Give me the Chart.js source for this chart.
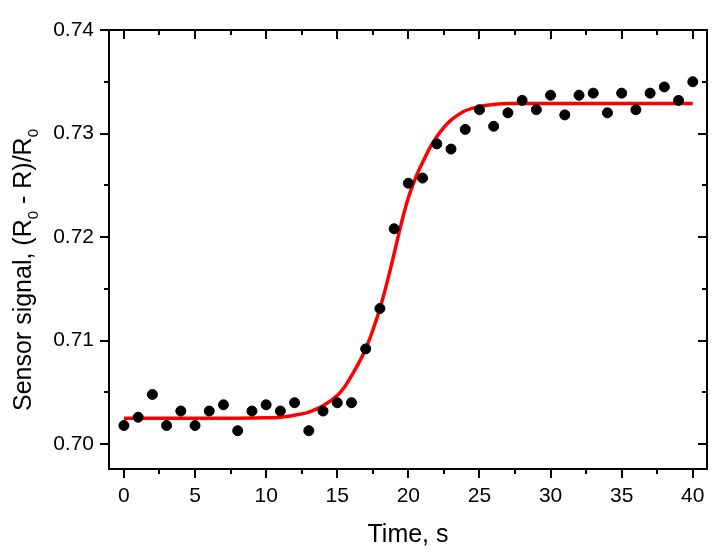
<!DOCTYPE html>
<html>
<head>
<meta charset="utf-8">
<script src="https://cdn.jsdelivr.net/npm/chart.js@4/dist/chart.umd.min.js"></script>
<style>
html, body { margin: 0; padding: 0; background: #fff; }
#wrap { width: 717px; height: 556px; }
</style>
</head>
<body>
<div id="wrap"><canvas id="sensorChart" width="717" height="556"></canvas></div>
<script>
// measured points
const timeValues = [0,1,2,3,4,5,6,7,8,9,10,11,12,13,14,15,16,17,18,19,20,
  21,22,23,24,25,26,27,28,29,30,31,32,33,34,35,36,37,38,39,40];
const signalValues = [0.7018,0.7026,0.7048,0.7018,0.7032,0.7018,0.7032,0.7038,0.7013,0.7032,0.7038,
  0.7032,0.7040,0.7013,0.7032,0.7040,0.7040,0.7092,0.7131,0.7208,0.7252,
  0.7257,0.7290,0.7285,0.7304,0.7323,0.7307,0.7320,0.7332,0.7323,0.7337,
  0.7318,0.7337,0.7339,0.7320,0.7339,0.7323,0.7339,0.7345,0.7332,0.7350];

// fitted curve
const fitTime = [0,5,10,11,12,13,14,15,15.5,16,16.5,17,17.5,18,18.5,19,19.5,20,20.5,21,21.5,22,22.5,23,23.5,24,25,26,27,30,35,40];
const fitSignal = [0.7025,0.7025,0.70255,0.7026,0.7028,0.7031,0.7037,0.7047,0.7055,0.7066,0.7078,0.7092,0.7110,0.7131,0.7156,0.7184,0.7213,0.7238,0.7257,0.7272,0.7286,0.7297,0.7306,0.7313,0.7318,0.7322,0.7326,0.7328,0.7329,0.7329,0.7329,0.7329];

const xTicks = [0,5,10,15,20,25,30,35,40];
const xMinorTicks = [2.5,7.5,12.5,17.5,22.5,27.5,32.5,37.5];
const yTicks = [0.70,0.71,0.72,0.73,0.74];
const yMinorTicks = [0.705,0.715,0.725,0.735];

const FONT = "'Liberation Sans', Arial, sans-serif";

// 畫外框與刻度（含次刻度、上/右內向刻度）
const frameTicks = {
  id: 'frameTicks',
  afterDraw(chart) {
    const ctx = chart.ctx;
    const a = chart.chartArea;
    const xs = chart.scales.x, ys = chart.scales.y;
    ctx.save();
    ctx.strokeStyle = '#000';
    ctx.lineWidth = 2;
    ctx.strokeRect(a.left, a.top, a.right - a.left, a.bottom - a.top);
    const tick = (x1, y1, x2, y2) => { ctx.beginPath(); ctx.moveTo(x1, y1); ctx.lineTo(x2, y2); ctx.stroke(); };
    xTicks.forEach(v => {
      const px = Math.round(xs.getPixelForValue(v));
      tick(px, a.bottom, px, a.bottom + 9);
      tick(px, a.top, px, a.top + 9);
    });
    xMinorTicks.forEach(v => {
      const px = Math.round(xs.getPixelForValue(v));
      tick(px, a.bottom, px, a.bottom + 5);
      tick(px, a.top, px, a.top + 5);
    });
    yTicks.forEach(v => {
      const py = Math.round(ys.getPixelForValue(v));
      tick(a.left, py, a.left - 9, py);
      tick(a.right, py, a.right - 9, py);
    });
    yMinorTicks.forEach(v => {
      const py = Math.round(ys.getPixelForValue(v));
      tick(a.left, py, a.left - 5, py);
      tick(a.right, py, a.right - 5, py);
    });

    // y軸標題（含下標）
    const parts = [
      ['Sensor signal, (R', false], ['0', true], [' - R)/R', false], ['0', true]
    ];
    const big = `25px ${FONT}`, small = `15px ${FONT}`;
    let total = 0;
    parts.forEach(p => { ctx.font = p[1] ? small : big; total += ctx.measureText(p[0]).width; });
    ctx.translate(31, 270);
    ctx.rotate(-Math.PI / 2);
    ctx.fillStyle = '#000';
    ctx.textBaseline = 'alphabetic';
    let x = -total / 2;
    parts.forEach(p => {
      ctx.font = p[1] ? small : big;
      ctx.fillText(p[0], x, p[1] ? 7 : 0);
      x += ctx.measureText(p[0]).width;
    });
    ctx.restore();
  }
};

new Chart(document.getElementById('sensorChart').getContext('2d'), {
  type: 'scatter',
  data: {
    datasets: [
      {
        label: 'data',
        data: timeValues.map((t, i) => ({ x: t, y: signalValues[i] })),
        backgroundColor: '#000',
        borderColor: '#000',
        pointRadius: 5,
        pointHoverRadius: 5,
        showLine: false
      },
      {
        label: 'fit',
        data: fitTime.map((t, i) => ({ x: t, y: fitSignal[i] })),
        borderColor: '#ff0000',
        borderWidth: 3.5,
        pointRadius: 0,
        showLine: true,
        cubicInterpolationMode: 'monotone'
      }
    ]
  },
  options: {
    responsive: false,
    animation: false,
    layout: { padding: { top: 30, right: 10, left: 0, bottom: 0 } },
    plugins: { legend: { display: false }, tooltip: { enabled: false } },
    scales: {
      x: {
        type: 'linear',
        min: -1.05,
        max: 41.0,
        afterBuildTicks: s => { s.ticks = xTicks.map(v => ({ value: v })); },
        afterFit: s => { s.height = 87; },
        grid: { display: false },
        border: { display: false },
        ticks: { color: '#000', font: { family: FONT, size: 21 }, padding: 7 },
        title: { display: true, text: 'Time, s', color: '#000', font: { family: FONT, size: 25 }, padding: { top: 0, bottom: 6 } }
      },
      y: {
        type: 'linear',
        min: 0.6976,
        max: 0.7400,
        afterBuildTicks: s => { s.ticks = yTicks.map(v => ({ value: v })); },
        afterFit: s => { s.width = 109; },
        grid: { display: false },
        border: { display: false },
        ticks: { color: '#000', font: { family: FONT, size: 21 }, padding: 7, callback: v => v.toFixed(2) }
      }
    }
  },
  plugins: [frameTicks]
});
</script>
</body>
</html>
